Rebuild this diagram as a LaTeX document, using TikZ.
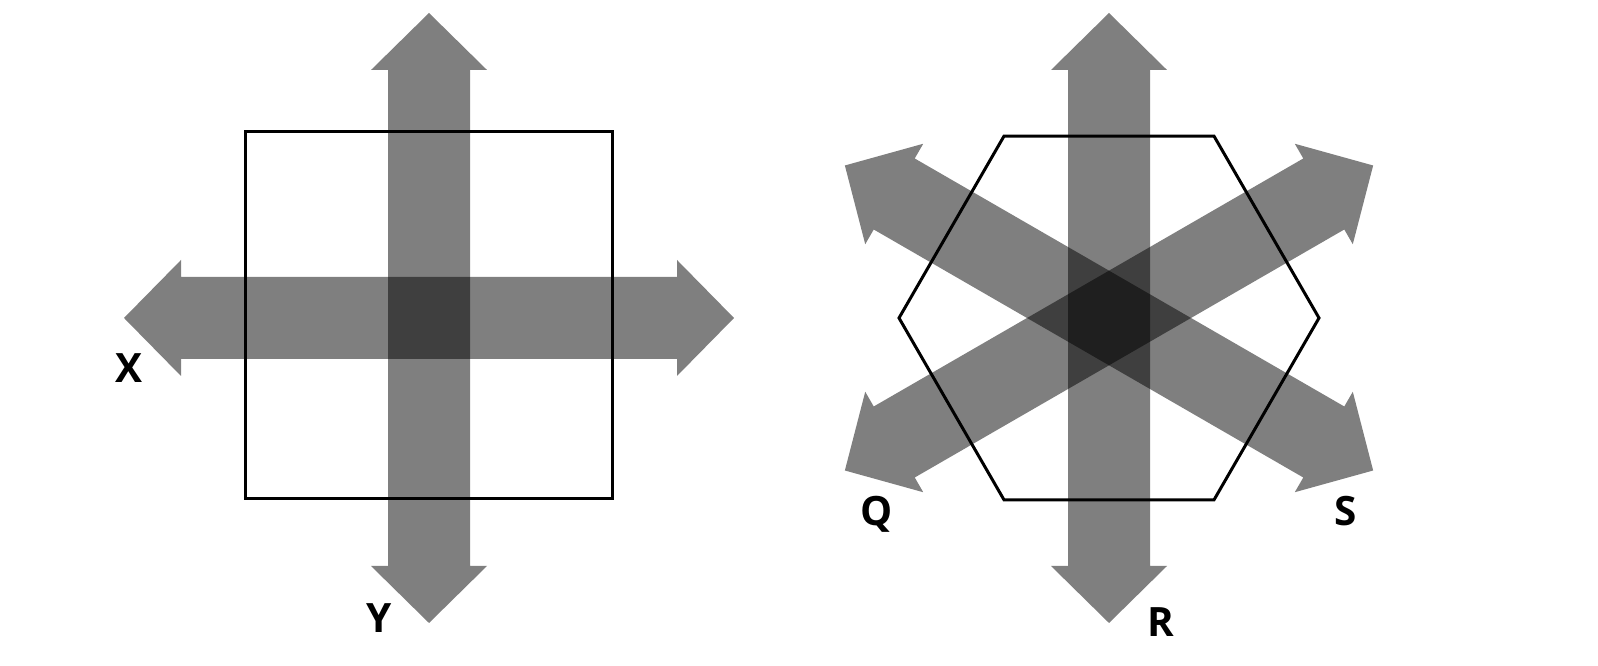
\documentclass[tikz,border=0pt]{standalone}
\usepackage{fontspec}
\setmainfont{Open Sans}
\usetikzlibrary{positioning,calc}
\tikzset{
  dblArrow/.style={
    fill=black,
    fill opacity=0.5,
    draw=none
  },
  outline/.style={
    draw=black,
    line width=0.06cm,
    line join=miter
  },
  axisLabel/.style={
    inner sep=0pt,
    font=\fontsize{23}{23}\selectfont\bfseries
  }
}
% double arrow: centre, angle
\newcommand{\dblArrow}[2]{\fill[dblArrow, shift={(#1)}, rotate=#2]
  (6.1,0) -- (4.96,1.16) -- (4.96,0.82) -- (-4.96,0.82) -- (-4.96,1.16)
  -- (-6.1,0) -- (-4.96,-1.16) -- (-4.96,-0.82) -- (4.96,-0.82)
  -- (4.96,-1.16) -- cycle;}

\begin{document}
\begin{tikzpicture}
    \useasboundingbox (0,0) rectangle (31.96,13.32);
    \coordinate (sqC) at (8.58,6.96);
    \coordinate (hexC) at (22.18,6.96);

    % square with two directions
    \draw[outline] ($(sqC)+(-3.68,-3.62)$) rectangle ($(sqC)+(3.66,3.72)$);
    \foreach \a in {0,90}{
      \dblArrow{sqC}{\a}
    }

    % hexagon with three directions
    \draw[outline] ($(hexC)+(4.2,0)$)
      \foreach \k in {1,...,5}{ -- ($(hexC)+(\k*60:4.2)$) } -- cycle;
    \foreach \a in {90,30,-30}{
      \dblArrow{hexC}{\a}
    }

    \node[axisLabel] (labX) at (2.58,5.96) {X};
    \node[axisLabel] (labY) at (7.58,0.96) {Y};
    \node[axisLabel] (labQ) at (17.54,3.04) {Q};
    \node[axisLabel] (labR) at (23.22,0.88) {R};
    \node[axisLabel] (labS) at (26.92,3.10) {S};
\end{tikzpicture}
\end{document}
